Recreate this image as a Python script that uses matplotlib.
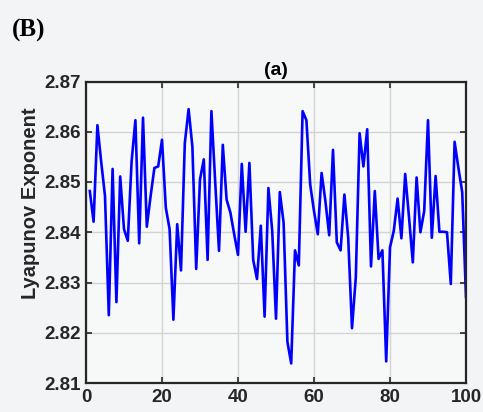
import matplotlib
matplotlib.use("Agg")
import matplotlib.pyplot as plt
import numpy as np

# iteration index and the Lyapunov exponent
iterations = list(range(1, 101))
lyapunov = [
    2.8482, 2.8421, 2.8613, 2.8540, 2.8472, 2.8235, 2.8526, 2.8261, 2.8511, 2.8406,
    2.8383, 2.8541, 2.8623, 2.8378, 2.8628, 2.8411, 2.8472, 2.8528, 2.8531, 2.8584,
    2.8449, 2.8406, 2.8226, 2.8416, 2.8324, 2.8577, 2.8645, 2.8570, 2.8327, 2.8505,
    2.8545, 2.8345, 2.8641, 2.8500, 2.8363, 2.8574, 2.8465, 2.8439, 2.8396, 2.8355,
    2.8536, 2.8401, 2.8538, 2.8345, 2.8307, 2.8413, 2.8232, 2.8488, 2.8403, 2.8228,
    2.8480, 2.8419, 2.8182, 2.8139, 2.8364, 2.8334, 2.8641, 2.8623, 2.8495, 2.8442,
    2.8396, 2.8518, 2.8462, 2.8394, 2.8564, 2.8380, 2.8364, 2.8475, 2.8389, 2.8209,
    2.8310, 2.8597, 2.8531, 2.8605, 2.8332, 2.8482, 2.8347, 2.8364, 2.8143, 2.8370,
    2.8403, 2.8467, 2.8388, 2.8516, 2.8430, 2.8340, 2.8509, 2.8400, 2.8442, 2.8623,
    2.8389, 2.8512, 2.8401, 2.8401, 2.8400, 2.8297, 2.8580, 2.8528, 2.8480, 2.8271,
]
xticks = [0, 20, 40, 60, 80, 100]
yticks = [2.81, 2.82, 2.83, 2.84, 2.85, 2.86, 2.87]

plt.rcParams['font.family'] = ['Liberation Sans', 'DejaVu Sans']

fig = plt.figure(figsize=(4.83, 4.12), dpi=100, facecolor='#f3f4f5')
ax = fig.add_axes([86/483, 1 - 383/412, 380/483, 301.5/412])
ax.set_facecolor('#f7f8f8')

ax.plot(iterations, lyapunov, color='#0000ff', lw=1.9)

ax.set_xlim(0, 100)
ax.set_ylim(2.81, 2.87)
ax.set_xticks(xticks)
ax.set_yticks(yticks)
ax.set_yticklabels(['%.2f' % v for v in yticks])
ax.grid(True, color='#d4d4d4', lw=1.0)
ax.set_axisbelow(True)
ax.tick_params(direction='in', length=4, width=1.2, top=True, right=True,
               labelsize=13.5, colors='#262626', pad=4)
for lbl in ax.get_xticklabels() + ax.get_yticklabels():
    lbl.set_fontweight('bold')
for sp in ax.spines.values():
    sp.set_color('#262626')
    sp.set_linewidth(1.6)

ax.set_ylabel('Lyapunov Exponent', fontsize=14.5, fontweight='bold', color='#262626')
ax.yaxis.set_label_coords(-0.122, 0.597)
ax.set_title('(a)', fontsize=14, fontweight='bold', pad=5)

fig.text(12/483, 1 - 37/412, '(B)', fontsize=18, fontweight='bold',
         family='Liberation Serif', color='black')

fig.savefig('out.png', dpi=100, facecolor=fig.get_facecolor())
